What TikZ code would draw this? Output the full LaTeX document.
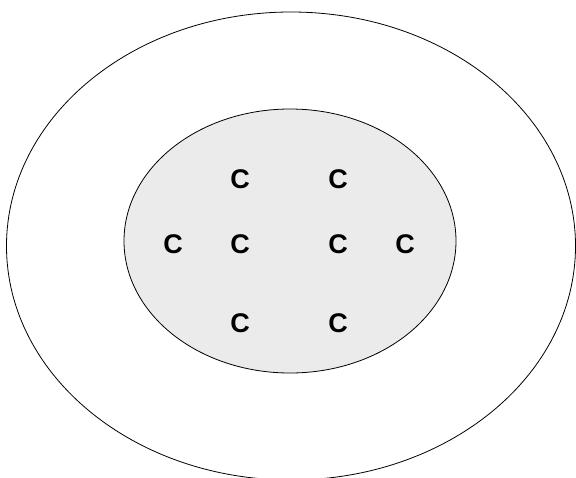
\documentclass[tikz,border=0pt]{standalone}
\usepackage{fontspec}
\setmainfont{Liberation Sans}
\usepackage{tikz}

\definecolor{cellgray}{HTML}{EBEBEB}

\begin{document}
\begin{tikzpicture}[x=1pt, y=-1pt,
    atom/.style={font=\fontsize{27}{27}\selectfont\bfseries, inner sep=0pt}]
    \useasboundingbox (0, 0) rectangle (576, 477);
    \clip (0, 0) rectangle (576, 477);

    \draw[line width=0.8pt] (291, 246) ellipse [x radius=284.5, y radius=234];
    \draw[fill=cellgray, line width=0.8pt] (290, 241) ellipse [x radius=166, y radius=132];

    \node[atom] (c1) at (240, 179) {C};
    \node[atom] (c2) at (338, 179) {C};
    \node[atom] (c3) at (173, 244) {C};
    \node[atom] (c4) at (240, 244) {C};
    \node[atom] (c5) at (338, 244) {C};
    \node[atom] (c6) at (405, 244) {C};
    \node[atom] (c7) at (240, 323) {C};
    \node[atom] (c8) at (338, 323) {C};
\end{tikzpicture}
\end{document}
